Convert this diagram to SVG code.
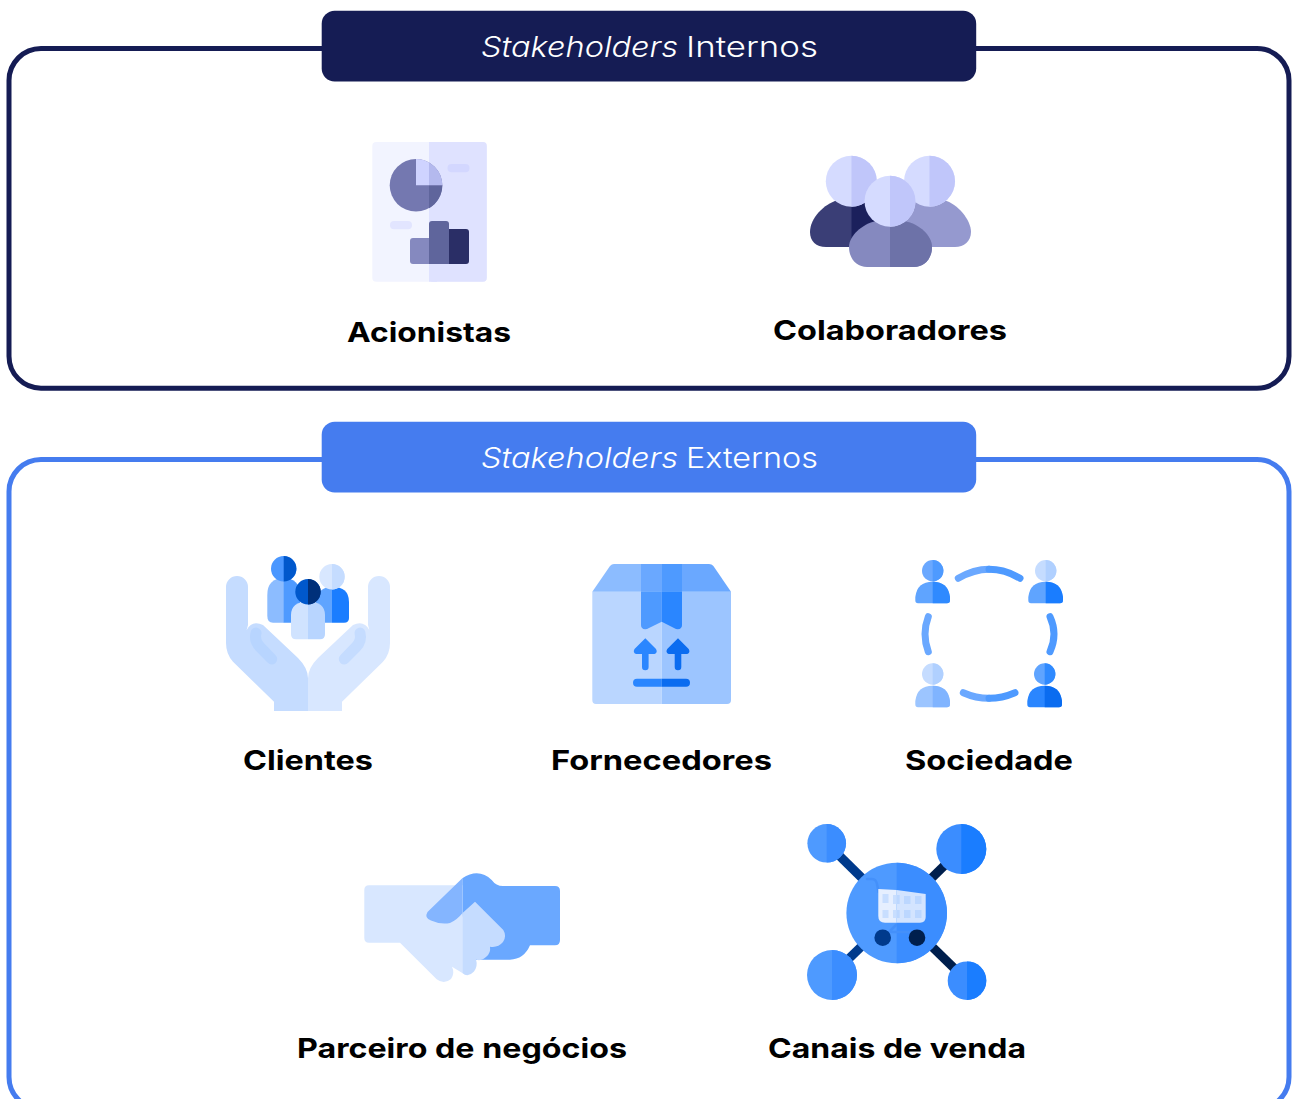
<svg xmlns="http://www.w3.org/2000/svg" width="1292" height="1099" viewBox="0 0 1292 1099">
<style>
.hd{font-family:"Inter","Liberation Sans",sans-serif;font-size:28px;font-weight:300;fill:#fff}
.it{font-style:italic}
.lb{font-family:"Inter","Liberation Sans",sans-serif;font-size:27.5px;font-weight:700;fill:#000;text-anchor:start}
.fr{fill:none;stroke-width:5}
.ln{fill:none;stroke-linecap:round}
</style>
<defs>
<clipPath id="r851"><rect x="851.5" y="100" width="200" height="200"/></clipPath>
<clipPath id="r890"><rect x="890" y="100" width="200" height="200"/></clipPath>
<clipPath id="r929"><rect x="929.5" y="100" width="200" height="200"/></clipPath>
<clipPath id="r308"><rect x="308" y="540" width="200" height="200"/></clipPath>
<clipPath id="r284"><rect x="283.7" y="540" width="200" height="200"/></clipPath>
<clipPath id="r332"><rect x="332" y="540" width="200" height="200"/></clipPath>
<clipPath id="r933"><rect x="932.7" y="540" width="200" height="200"/></clipPath>
<clipPath id="r1046"><rect x="1045.7" y="540" width="200" height="200"/></clipPath>
<clipPath id="r1045"><rect x="1044.7" y="540" width="200" height="200"/></clipPath>
<clipPath id="r897"><rect x="896.7" y="800" width="200" height="220"/></clipPath>
<clipPath id="r827"><rect x="826.7" y="800" width="100" height="100"/></clipPath>
<clipPath id="r961"><rect x="961.3" y="800" width="100" height="100"/></clipPath>
<clipPath id="r832"><rect x="832" y="930" width="100" height="100"/></clipPath>
<clipPath id="r967"><rect x="967" y="930" width="100" height="100"/></clipPath>
<path id="b1" d="M810 232C810 218 824 204 838 200L866 200C880 204 896 220 896 232C896 241 889 247 880 247L826 247C816 247 810 241 810 232Z"/>
<path id="b2" d="M885 232C885 218 900 204 914 200L944 200C958 204 971 220 971 232C971 241 964 247 955 247L901 247C892 247 885 241 885 232Z"/>
<path id="b3" d="M849 247C849 236 862 224 876 221L904 221C920 224 932 236 932 247C932 259 924 267 914 267L867 267C857 267 849 259 849 247Z"/>
<path id="pb" d="M915.300 600V597Q917 581.700 932.700 581.700Q948 581.700 950 597V600Q950 603.300 947 603.300H918Q915.300 603.300 915.300 600Z"/>
</defs>

<g id="connectors">
<rect class="fr" x="9" y="48.500" width="1280" height="339.700" rx="32" stroke="#151c54"/>
<rect class="fr" x="9" y="459.500" width="1280" height="649.500" rx="32" stroke="#457cef"/>
</g>

<g id="header-internos">
<rect x="321.700" y="10.800" width="654.500" height="70.800" rx="13" fill="#151c54"/>
<text class="hd" y="57.300"><tspan class="it" x="481" textLength="197" lengthAdjust="spacingAndGlyphs">Stakeholders</tspan><tspan x="686" textLength="132" lengthAdjust="spacingAndGlyphs">Internos</tspan></text>
</g>
<g id="header-externos">
<rect x="321.700" y="421.800" width="654.500" height="70.800" rx="13" fill="#457cef"/>
<text class="hd" y="468.300"><tspan class="it" x="481" textLength="197" lengthAdjust="spacingAndGlyphs">Stakeholders</tspan><tspan x="686" textLength="132" lengthAdjust="spacingAndGlyphs">Externos</tspan></text>
</g>

<g id="acionistas">
<rect x="372.300" y="142" width="114.500" height="139.700" rx="4" fill="#f2f4ff"/>
<rect x="429" y="142" width="57.800" height="139.700" rx="4" fill="#dfe2ff"/>
<rect x="429" y="142" width="8" height="139.700" fill="#dfe2ff"/>
<circle cx="416" cy="185.300" r="26.300" fill="#7478b0"/>
<path d="M429 208.300A26.300 26.300 0 0 0 442.300 185.300H429Z" fill="#5f659c"/>
<path d="M416 159V185.300H429V162.400A26.300 26.300 0 0 0 416 159Z" fill="#cfd3ff"/>
<path d="M429 162.400V185.300H442.300A26.300 26.300 0 0 0 429 162.400Z" fill="#b4b9ee"/>
<rect x="447.500" y="164" width="22" height="8.300" rx="4.100" fill="#d3d7ff"/>
<rect x="390" y="221" width="22" height="8.300" rx="4.100" fill="#e2e5ff"/>
<path d="M413 238H429V264H413Q410 264 410 261V241Q410 238 413 238Z" fill="#8589bf"/>
<path d="M429 224Q429 221 432 221H446Q449 221 449 224V264H429Z" fill="#5f659c"/>
<path d="M449 229H466Q469 229 469 232V261Q469 264 466 264H449Z" fill="#2a2e66"/>
<text class="lb" x="347" y="342.300" textLength="164" lengthAdjust="spacingAndGlyphs">Acionistas</text>
</g>

<g id="colaboradores">
<use href="#b1" fill="#3a3e76"/>
<use href="#b1" fill="#1b205c" clip-path="url(#r851)"/>
<use href="#b2" fill="#9599cf"/>
<circle cx="851.300" cy="181.300" r="25.500" fill="#d5dbff"/>
<circle cx="851.300" cy="181.300" r="25.500" fill="#c0c6fa" clip-path="url(#r851)"/>
<circle cx="929.500" cy="181.300" r="25.500" fill="#d5dbff"/>
<circle cx="929.500" cy="181.300" r="25.500" fill="#c0c6fa" clip-path="url(#r929)"/>
<use href="#b3" fill="#8589bf"/>
<use href="#b3" fill="#6d72a8" clip-path="url(#r890)"/>
<circle cx="890" cy="201.300" r="25.500" fill="#d5dbff"/>
<circle cx="890" cy="201.300" r="25.500" fill="#c0c6fa" clip-path="url(#r890)"/>
<text class="lb" x="773" y="340.300" textLength="234" lengthAdjust="spacingAndGlyphs">Colaboradores</text>
</g>

<g id="clientes">
<path d="M226 587A11 11 0 0 1 248 587V625L246.700 630Q252 620 263 625L298 658Q308 668 308 678.300V711H274V701.700L233 661.700Q226 654 226 643Z" fill="#c5dcff"/>
<path d="M390 587A11 11 0 0 0 368 587V625L369.300 630Q364 620 353 625L318 658Q308 668 308 678.300V711H342V701.700L383 661.700Q390 654 390 643Z" fill="#d8e7ff"/>
<path class="ln" d="M256 633Q254 641 260 647L271.700 659" stroke="#b8d5ff" stroke-width="11"/>
<path class="ln" d="M360 633Q362 641 356 647L344.300 659" stroke="#c5dcff" stroke-width="11"/>
<path d="M267.300 616V595Q267.300 578.300 283.700 578.300H284V622.700H273Q267.300 622.700 267.300 616Z" fill="#8cbcff"/>
<path d="M283.700 578.300Q300 578.300 300 595V622.700H283.700Z" fill="#4e9aff"/>
<path d="M316 622.700V602Q318 586.700 332 586.700V622.700Z" fill="#5fa4ff"/>
<path d="M332 586.700Q349 586.700 349 602V618Q349 622.700 344 622.700H332Z" fill="#1a7dff"/>
<circle cx="283.700" cy="568.700" r="12.700" fill="#4a97ff"/>
<circle cx="283.700" cy="568.700" r="12.700" fill="#0058cc" clip-path="url(#r284)"/>
<circle cx="332" cy="576.700" r="12.700" fill="#d8e7ff"/>
<circle cx="332" cy="576.700" r="12.700" fill="#c5dcff" clip-path="url(#r332)"/>
<path d="M291 634V615Q291 601.700 308 601.700V639.300H296Q291 639.300 291 634Z" fill="#d0e3ff"/>
<path d="M308 601.700Q325 601.700 325 615V634Q325 639.300 320 639.300H308Z" fill="#b8d5ff"/>
<circle cx="308" cy="591.700" r="12.700" fill="#0058cc"/>
<circle cx="308" cy="591.700" r="12.700" fill="#00307a" clip-path="url(#r308)"/>
<text class="lb" x="243" y="770.300" textLength="130" lengthAdjust="spacingAndGlyphs">Clientes</text>
</g>

<g id="fornecedores">
<path d="M592.300 591.700H661.700V704H596Q592.300 704 592.300 700Z" fill="#bad6ff"/>
<path d="M661.700 591.700H731V700Q731 704 727 704H661.700Z" fill="#9cc5ff"/>
<path d="M592.300 591.700L610 566Q611.700 564 614 564H661.700V591.700Z" fill="#8cbcff"/>
<path d="M731 591.700L713.400 566Q711.700 564 709 564H661.700V591.700Z" fill="#6aa8ff"/>
<rect x="641" y="564" width="20.700" height="27.700" fill="#6aa8ff"/>
<rect x="661.700" y="564" width="20.300" height="27.700" fill="#4e9aff"/>
<path d="M641 591.700H661.700V621.700L647 629Q641 630 641 625Z" fill="#4e9aff"/>
<path d="M682 591.700H661.700V621.700L676 629Q682 630 682 625Z" fill="#2a86ff"/>
<path d="M645.300 638.300L656 649Q658 652.500 654.500 654H648.600V667A3.300 3.300 0 0 1 642 667V654H636Q632.500 652.500 634.500 649Z" fill="#2a86ff"/>
<path d="M678 638.300L688.700 649Q690.700 652.500 687.200 654H681.300V667A3.300 3.300 0 0 1 674.700 667V654H668.700Q665.200 652.500 667.200 649Z" fill="#0a6cf0"/>
<path d="M637 678.700H661.700V686.700H637A4 4 0 0 1 637 678.700Z" fill="#2a86ff"/>
<path d="M661.700 678.700H686A4 4 0 0 1 686 686.700H661.700Z" fill="#0a6cf0"/>
<text class="lb" x="551" y="770.300" textLength="221" lengthAdjust="spacingAndGlyphs">Fornecedores</text>
</g>

<g id="sociedade">
<circle cx="932.700" cy="570.700" r="10.700" fill="#6aa8ff"/>
<circle cx="932.700" cy="570.700" r="10.700" fill="#4e9aff" clip-path="url(#r933)"/>
<use href="#pb" fill="#5fa4ff"/>
<use href="#pb" fill="#2f8aff" clip-path="url(#r933)"/>
<circle cx="1045.700" cy="570.700" r="10.700" fill="#c5dcff"/>
<circle cx="1045.700" cy="570.700" r="10.700" fill="#b0d0ff" clip-path="url(#r1046)"/>
<use href="#pb" x="113" fill="#5fa4ff"/>
<g clip-path="url(#r1046)"><use href="#pb" x="113" fill="#1a7dff"/></g>
<circle cx="932.700" cy="674" r="10.700" fill="#c5dcff"/>
<circle cx="932.700" cy="674" r="10.700" fill="#b0d0ff" clip-path="url(#r933)"/>
<use href="#pb" y="104" fill="#9cc5ff"/>
<g clip-path="url(#r933)"><use href="#pb" y="104" fill="#80b4ff"/></g>
<circle cx="1044.700" cy="674" r="10.700" fill="#5fa4ff"/>
<circle cx="1044.700" cy="674" r="10.700" fill="#2f8aff" clip-path="url(#r1045)"/>
<use href="#pb" x="112" y="104" fill="#2a86ff"/>
<g clip-path="url(#r1045)"><use href="#pb" x="112" y="104" fill="#0a6cf0"/></g>
<path class="ln" d="M958.300 578.300Q974 569.300 989 569.300" stroke="#6aa8ff" stroke-width="7"/>
<path class="ln" d="M989 569.300Q1005 569.300 1020 578.300" stroke="#4e9aff" stroke-width="7"/>
<path class="ln" d="M963.300 692.700Q976 698.300 989 698.300" stroke="#6aa8ff" stroke-width="7"/>
<path class="ln" d="M989 698.300Q1002 698.300 1015 692.700" stroke="#4e9aff" stroke-width="7"/>
<path class="ln" d="M928.300 616.700Q921.700 634 928.300 651.700" stroke="#6aa8ff" stroke-width="7"/>
<path class="ln" d="M1050 616.700Q1058 634 1050 651.700" stroke="#4e9aff" stroke-width="7"/>
<text class="lb" x="905" y="770.300" textLength="168" lengthAdjust="spacingAndGlyphs">Sociedade</text>
</g>

<g id="parceiro">
<path d="M462.300 878.300Q470 873.300 476.700 873.300Q485 873.300 491.700 880Q496 886 503 886H555Q560 886 560 891V940Q560 945.300 555 945.300H530Q524 959.300 510 959.700H470L462.300 913.300Z" fill="#6aa8ff"/>
<path d="M369 885.300H462.300V973L452 966.700Q455 973 451 979Q444 985 436.700 979.300L400 942.700H369Q364.300 942.700 364.300 938V890Q364.300 885.300 369 885.300Z" fill="#d8e7ff"/>
<path d="M462.300 913.300L475 901.700L503.300 930Q507 936 503 942Q498 948 490 946.700Q491 953 486 957Q480 962 476 959.500Q478 966 474 971.500Q468 978 462.300 973Z" fill="#c5dcff"/>
<path d="M462.300 878.300L427.500 912Q424 918 431 920.500Q441 925 450 923Q457 920 462.300 913.300Z" fill="#84b5ff"/>
<text class="lb" x="297" y="1058.300" textLength="330" lengthAdjust="spacingAndGlyphs">Parceiro de negócios</text>
</g>

<g id="canais">
<path d="M826.700 843.300L896.700 912.300" stroke="#003a8c" stroke-width="9"/>
<path d="M961.300 849L896.700 912.300" stroke="#001f4d" stroke-width="9"/>
<path d="M832 975L896.700 912.300" stroke="#003a8c" stroke-width="9"/>
<path d="M967 980.700L896.700 912.300" stroke="#001f4d" stroke-width="9"/>
<circle cx="826.700" cy="843.300" r="19.300" fill="#4e9aff"/>
<circle cx="826.700" cy="843.300" r="19.300" fill="#3b8dff" clip-path="url(#r827)"/>
<circle cx="961.300" cy="849" r="25" fill="#3b8dff"/>
<circle cx="961.300" cy="849" r="25" fill="#1a7dff" clip-path="url(#r961)"/>
<circle cx="832" cy="975" r="25" fill="#4e9aff"/>
<circle cx="832" cy="975" r="25" fill="#3b8dff" clip-path="url(#r832)"/>
<circle cx="967" cy="980.700" r="19.300" fill="#3b8dff"/>
<circle cx="967" cy="980.700" r="19.300" fill="#1a7dff" clip-path="url(#r967)"/>
<circle cx="896.700" cy="913" r="50.300" fill="#4e9aff"/>
<circle cx="896.700" cy="913" r="50.300" fill="#3b8dff" clip-path="url(#r897)"/>
<path d="M867 879H872Q876 879 877 884L878.500 892M896 925L889 932H912" fill="none" stroke="#4490fa" stroke-width="2.500" stroke-linecap="round"/>
<path d="M878.300 889L896.700 890V922.700H885Q878.300 922.700 878.300 916Z" fill="#e6efff"/>
<path d="M896.700 890L925.700 894V917Q925.700 922.700 920 922.700H896.700Z" fill="#d3e4ff"/>
<g fill="#c8deff"><rect x="882.500" y="894" width="6" height="9"/><rect x="882.500" y="910" width="6" height="8"/><rect x="893" y="895" width="3.700" height="9"/><rect x="893" y="910" width="3.700" height="8"/></g>
<g fill="#bcd7ff"><rect x="896.700" y="895" width="3" height="9"/><rect x="896.700" y="910" width="3" height="8"/><rect x="904" y="896" width="6.500" height="8"/><rect x="904" y="910" width="6.500" height="8"/><rect x="915" y="896" width="6.500" height="8"/><rect x="915" y="910" width="6.500" height="8"/></g>
<circle cx="882.700" cy="937.700" r="8.300" fill="#003a8c"/>
<circle cx="917" cy="937.700" r="8.300" fill="#001f4d"/>
<text class="lb" x="768" y="1058.300" textLength="258" lengthAdjust="spacingAndGlyphs">Canais de venda</text>
</g>
</svg>
